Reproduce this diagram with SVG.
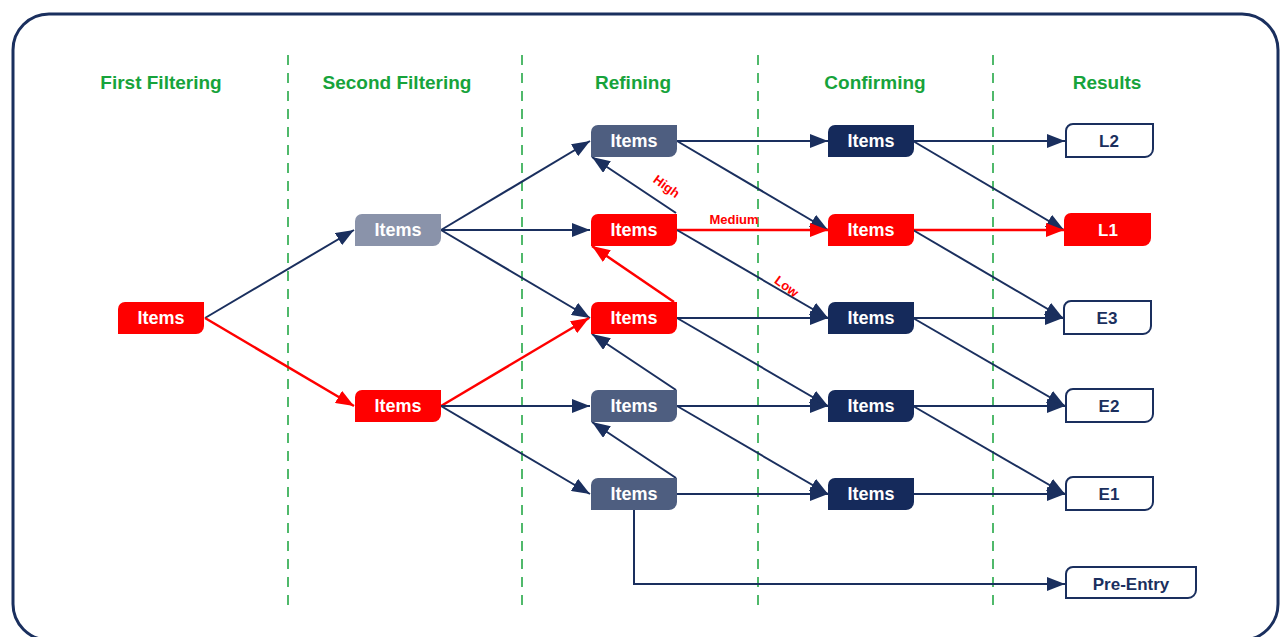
<svg xmlns="http://www.w3.org/2000/svg" width="1286" height="637" viewBox="0 0 1286 637">
<style>
.hdr{font-family:"Liberation Sans",Arial,sans-serif;font-weight:bold;font-size:19px;fill:#17a33b;text-anchor:middle}
.it{font-family:"Liberation Sans",Arial,sans-serif;font-weight:bold;font-size:18px;fill:#fff;text-anchor:middle}
.res{font-family:"Liberation Sans",Arial,sans-serif;font-weight:bold;font-size:17px;fill:#1a2f5e;text-anchor:middle}
.lbl{font-family:"Liberation Sans",Arial,sans-serif;font-weight:bold;font-size:13px;fill:#ff0000;text-anchor:middle}
.n{stroke:#1a2f5e;stroke-width:2;fill:none;marker-end:url(#an)}
.r{stroke:#ff0000;stroke-width:2.5;fill:none;marker-end:url(#ar)}
.div{stroke:#17a33b;stroke-width:1.5;stroke-dasharray:10,8}
.red{fill:#ff0000}.slate{fill:#4e5e80}.grey{fill:#8a93aa}.navy{fill:#152a5b}
.wb{fill:#fff;stroke:#1a2f5e;stroke-width:2}
</style>
<defs>
<marker id="an" markerUnits="userSpaceOnUse" markerWidth="18" markerHeight="14" refX="18" refY="7" orient="auto"><path d="M0,0 L18,7 L0,14 Z" fill="#1a2f5e"/></marker>
<marker id="ar" markerUnits="userSpaceOnUse" markerWidth="18" markerHeight="14" refX="18" refY="7" orient="auto"><path d="M0,0 L18,7 L0,14 Z" fill="#ff0000"/></marker>
<path id="box" d="M7,0 H86 V24 A8,8 0 0 1 78,32 H0 V7 A7,7 0 0 1 7,0 Z"/>
<path id="rbox" d="M7,0 H87 V25 A8,8 0 0 1 79,33 H0 V7 A7,7 0 0 1 7,0 Z"/>
</defs>
<rect x="13" y="14" width="1265" height="626" rx="36" fill="#fff" stroke="#1a2f5e" stroke-width="3"/>
<g id="dividers">
<line class="div" x1="288" y1="55" x2="288" y2="605"/>
<line class="div" x1="522" y1="55" x2="522" y2="605"/>
<line class="div" x1="758" y1="55" x2="758" y2="605"/>
<line class="div" x1="993" y1="55" x2="993" y2="605"/>
</g>
<g id="headers">
<text class="hdr" x="161" y="89">First Filtering</text>
<text class="hdr" x="397" y="89">Second Filtering</text>
<text class="hdr" x="633" y="89">Refining</text>
<text class="hdr" x="875" y="89">Confirming</text>
<text class="hdr" x="1107" y="89">Results</text>
</g>
<g id="connectors">
<line class="n" x1="205" y1="318" x2="354" y2="230"/>
<line class="r" x1="205" y1="318" x2="354" y2="406"/>
<line class="n" x1="441" y1="230" x2="590" y2="141"/>
<line class="n" x1="441" y1="230" x2="590" y2="230"/>
<line class="n" x1="441" y1="230" x2="590" y2="318"/>
<line class="r" x1="441" y1="406" x2="589" y2="318"/>
<line class="n" x1="441" y1="406" x2="590" y2="406"/>
<line class="n" x1="441" y1="406" x2="590" y2="494"/>
<line class="n" x1="677" y1="141" x2="828" y2="141"/>
<line class="n" x1="677" y1="141" x2="828" y2="230"/>
<line class="r" x1="677" y1="230" x2="828" y2="230"/>
<line class="n" x1="677" y1="230" x2="828" y2="318"/>
<line class="n" x1="676" y1="213" x2="592" y2="157"/>
<line class="r" x1="674" y1="302" x2="592" y2="246"/>
<line class="n" x1="677" y1="318" x2="828" y2="318"/>
<line class="n" x1="677" y1="318" x2="828" y2="406"/>
<line class="n" x1="676" y1="390" x2="592" y2="334"/>
<line class="n" x1="677" y1="406" x2="828" y2="406"/>
<line class="n" x1="677" y1="406" x2="828" y2="494"/>
<line class="n" x1="676" y1="478" x2="592" y2="422"/>
<line class="n" x1="677" y1="494" x2="828" y2="494"/>
<path class="n" d="M634,510 V584 H1065"/>
<line class="n" x1="913" y1="141" x2="1065" y2="141"/>
<line class="n" x1="913" y1="141" x2="1064" y2="230"/>
<line class="r" x1="913" y1="230" x2="1064" y2="230"/>
<line class="n" x1="913" y1="230" x2="1063" y2="318"/>
<line class="n" x1="913" y1="318" x2="1063" y2="318"/>
<line class="n" x1="913" y1="318" x2="1065" y2="406"/>
<line class="n" x1="913" y1="406" x2="1065" y2="406"/>
<line class="n" x1="913" y1="406" x2="1065" y2="494"/>
<line class="n" x1="913" y1="494" x2="1065" y2="494"/>
<text class="lbl" transform="translate(664,190) rotate(36)">High</text>
<text class="lbl" x="734" y="224">Medium</text>
<text class="lbl" transform="translate(784,290) rotate(36)">Low</text>
</g>
<g id="n1"><use href="#box" class="red" x="118" y="302"/><text class="it" x="161" y="324">Items</text></g>
<g id="n2a"><use href="#box" class="grey" x="355" y="214"/><text class="it" x="398" y="236">Items</text></g>
<g id="n2b"><use href="#box" class="red" x="355" y="390"/><text class="it" x="398" y="412">Items</text></g>
<g id="n3a"><use href="#box" class="slate" x="591" y="125"/><text class="it" x="634" y="147">Items</text></g>
<g id="n3b"><use href="#box" class="red" x="591" y="214"/><text class="it" x="634" y="236">Items</text></g>
<g id="n3c"><use href="#box" class="red" x="591" y="302"/><text class="it" x="634" y="324">Items</text></g>
<g id="n3d"><use href="#box" class="slate" x="591" y="390"/><text class="it" x="634" y="412">Items</text></g>
<g id="n3e"><use href="#box" class="slate" x="591" y="478"/><text class="it" x="634" y="500">Items</text></g>
<g id="n4a"><use href="#box" class="navy" x="828" y="125"/><text class="it" x="871" y="147">Items</text></g>
<g id="n4b"><use href="#box" class="red" x="828" y="214"/><text class="it" x="871" y="236">Items</text></g>
<g id="n4c"><use href="#box" class="navy" x="828" y="302"/><text class="it" x="871" y="324">Items</text></g>
<g id="n4d"><use href="#box" class="navy" x="828" y="390"/><text class="it" x="871" y="412">Items</text></g>
<g id="n4e"><use href="#box" class="navy" x="828" y="478"/><text class="it" x="871" y="500">Items</text></g>
<g id="L2"><use href="#rbox" class="wb" x="1066" y="124"/><text class="res" x="1109" y="147">L2</text></g>
<g id="L1"><use href="#rbox" class="red" x="1064" y="213"/><text class="res" x="1108" y="236" style="fill:#fff">L1</text></g>
<g id="E3"><use href="#rbox" class="wb" x="1064" y="301"/><text class="res" x="1107" y="324">E3</text></g>
<g id="E2"><use href="#rbox" class="wb" x="1066" y="389"/><text class="res" x="1109" y="412">E2</text></g>
<g id="E1"><use href="#rbox" class="wb" x="1066" y="477"/><text class="res" x="1109" y="500">E1</text></g>
<g id="PreEntry"><path class="wb" d="M1073,567 H1196 V590 A8,8 0 0 1 1188,598 H1066 V574 A7,7 0 0 1 1073,567 Z"/><text class="res" x="1131" y="590">Pre-Entry</text></g>
</svg>
